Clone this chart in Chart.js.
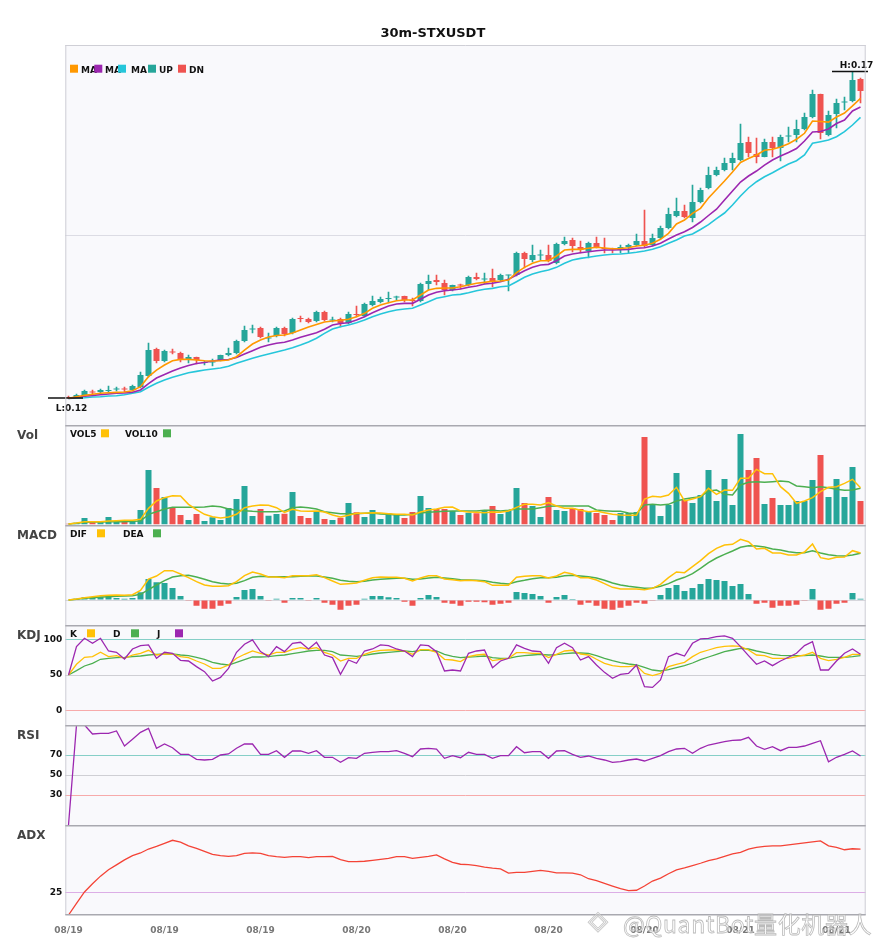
<!DOCTYPE html>
<html><head><meta charset="utf-8">
<script src="https://cdn.jsdelivr.net/npm/chart.js@4.4.1/dist/chart.umd.min.js"></script>
<style>
html,body{margin:0;padding:0;background:#fff;width:885px;height:950px;overflow:hidden;}
#wrap{position:relative;width:885px;height:950px;}
.pane{position:absolute;left:0;width:885px;}
canvas{display:block;}
#wm{position:absolute;left:623px;top:906px;font:23px "Noto Sans CJK SC","Noto Sans",sans-serif;color:rgba(255,255,255,0.55);-webkit-text-stroke:0.8px rgba(175,175,175,0.85);white-space:nowrap;letter-spacing:0.6px;}
#wmLogo{position:absolute;left:588px;top:905px;font:26px "DejaVu Sans",sans-serif;color:rgba(255,255,255,0.5);-webkit-text-stroke:0.8px rgba(180,180,180,0.8);}
</style></head>
<body><div id="wrap">
<div class="pane" style="top:0"><canvas id="cMain" width="885" height="425"></canvas></div>
<div class="pane" style="top:425px"><canvas id="cVol" width="885" height="100"></canvas></div>
<div class="pane" style="top:525px"><canvas id="cMacd" width="885" height="100"></canvas></div>
<div class="pane" style="top:625px"><canvas id="cKdj" width="885" height="100"></canvas></div>
<div class="pane" style="top:725px"><canvas id="cRsi" width="885" height="100"></canvas></div>
<div class="pane" style="top:825px"><canvas id="cAdx" width="885" height="125"></canvas></div>
<div id="wmLogo">◈</div>
<div id="wm">@QuantBot量化机器人</div>
</div>
<script>
// ---------------- DATA ----------------
const title = '30m-STXUSDT';
const tickLabels = ['08/19','08/19','08/19','08/20','08/20','08/20','08/20','08/21','08/21'];
const tickStep = 12;

const opens = [0.12015,0.12015,0.12031,0.12099,0.12092,0.12107,0.12130,0.12138,0.12123,0.12169,
0.12337,0.12751,0.12567,0.12713,0.12690,0.12598,0.12629,0.12537,0.12544,0.12583,
0.12659,0.12690,0.12874,0.13050,0.13073,0.12912,0.12951,0.13073,0.12997,0.13219,
0.13212,0.13181,0.13319,0.13188,0.13212,0.13150,0.13288,0.13258,0.13426,0.13472,
0.13518,0.13541,0.13564,0.13495,0.13488,0.13748,0.13810,0.13764,0.13656,0.13733,
0.13733,0.13856,0.13817,0.13840,0.13810,0.13878,0.13886,0.14224,0.14116,0.14185,
0.14193,0.14070,0.14362,0.14423,0.14316,0.14254,0.14377,0.14300,0.14285,0.14270,
0.14316,0.14346,0.14408,0.14346,0.14454,0.14607,0.14791,0.14868,0.14761,0.15006,
0.15221,0.15420,0.15497,0.15604,0.15650,0.15926,0.15742,0.15696,0.15926,0.15834,
0.16010,0.16034,0.16126,0.16310,0.16662,0.16034,0.16356,0.16532,0.16555,0.16892];
const highs = [0.12031,0.12061,0.12123,0.12123,0.12138,0.12184,0.12169,0.12169,0.12199,0.12399,
0.12843,0.12767,0.12736,0.12751,0.12705,0.12659,0.12629,0.12567,0.12598,0.12659,
0.12767,0.12889,0.13104,0.13120,0.13089,0.12997,0.13089,0.13089,0.13227,0.13258,
0.13227,0.13334,0.13334,0.13242,0.13227,0.13319,0.13411,0.13457,0.13564,0.13549,
0.13626,0.13564,0.13564,0.13534,0.13764,0.13886,0.13886,0.13810,0.13733,0.13748,
0.13871,0.13917,0.13917,0.13978,0.13902,0.13886,0.14239,0.14239,0.14346,0.14270,
0.14346,0.14377,0.14469,0.14454,0.14408,0.14392,0.14469,0.14454,0.14300,0.14346,
0.14362,0.14515,0.14883,0.14515,0.14638,0.14914,0.15067,0.14960,0.15267,0.15221,
0.15543,0.15543,0.15681,0.15757,0.16202,0.16003,0.15988,0.15972,0.16003,0.16034,
0.16156,0.16264,0.16371,0.16724,0.16662,0.16402,0.16586,0.16616,0.17000,0.16908];
const lows = [0.12000,0.12000,0.12015,0.12061,0.12077,0.12077,0.12107,0.12092,0.12107,0.12153,
0.12322,0.12537,0.12552,0.12675,0.12552,0.12537,0.12521,0.12506,0.12491,0.12567,
0.12644,0.12675,0.12859,0.12997,0.12920,0.12859,0.12935,0.12951,0.12981,0.13166,
0.13150,0.13166,0.13181,0.13166,0.13089,0.13135,0.13242,0.13242,0.13411,0.13457,
0.13457,0.13503,0.13472,0.13411,0.13472,0.13656,0.13733,0.13580,0.13641,0.13672,
0.13718,0.13810,0.13748,0.13702,0.13794,0.13641,0.13871,0.13994,0.14086,0.14116,
0.14086,0.14055,0.14346,0.14239,0.14224,0.14147,0.14300,0.14224,0.14224,0.14224,
0.14224,0.14331,0.14316,0.14331,0.14438,0.14592,0.14776,0.14761,0.14699,0.14991,
0.15205,0.15405,0.15481,0.15497,0.15635,0.15696,0.15604,0.15696,0.15696,0.15635,
0.15926,0.15926,0.16110,0.16294,0.15972,0.16018,0.16141,0.16417,0.16540,0.16524];
const closes = [0.12000,0.12046,0.12107,0.12084,0.12123,0.12123,0.12138,0.12130,0.12184,0.12353,
0.12736,0.12567,0.12721,0.12698,0.12598,0.12629,0.12583,0.12544,0.12552,0.12659,
0.12690,0.12874,0.13043,0.13058,0.12935,0.12920,0.13073,0.12981,0.13212,0.13212,
0.13166,0.13319,0.13196,0.13196,0.13150,0.13288,0.13273,0.13442,0.13488,0.13518,
0.13534,0.13549,0.13503,0.13488,0.13748,0.13794,0.13779,0.13656,0.13733,0.13725,
0.13856,0.13825,0.13825,0.13779,0.13886,0.13886,0.14224,0.14132,0.14193,0.14193,
0.14101,0.14362,0.14408,0.14331,0.14270,0.14377,0.14316,0.14285,0.14277,0.14316,
0.14346,0.14408,0.14331,0.14454,0.14607,0.14822,0.14868,0.14776,0.15006,0.15190,
0.15420,0.15497,0.15604,0.15681,0.15911,0.15757,0.15696,0.15926,0.15834,0.16003,
0.16018,0.16126,0.16310,0.16662,0.16064,0.16340,0.16524,0.16540,0.16877,0.16708];

const ma5 = [0.11995,0.12020,0.12041,0.12057,0.12072,0.12081,0.12087,0.12092,0.12112,0.12173,
0.12327,0.12429,0.12506,0.12572,0.12593,0.12593,0.12583,0.12572,0.12567,0.12572,
0.12583,0.12633,0.12736,0.12828,0.12889,0.12935,0.12958,0.12966,0.12997,0.13043,
0.13089,0.13127,0.13166,0.13181,0.13192,0.13207,0.13247,0.13299,0.13376,0.13426,
0.13462,0.13492,0.13503,0.13503,0.13580,0.13656,0.13682,0.13687,0.13687,0.13707,
0.13733,0.13759,0.13774,0.13790,0.13794,0.13810,0.13922,0.14004,0.14066,0.14106,
0.14106,0.14178,0.14270,0.14280,0.14280,0.14296,0.14311,0.14300,0.14290,0.14293,
0.14305,0.14331,0.14342,0.14373,0.14434,0.14526,0.14669,0.14730,0.14833,0.14909,
0.15067,0.15198,0.15328,0.15466,0.15612,0.15673,0.15727,0.15799,0.15814,0.15850,
0.15900,0.15969,0.16060,0.16248,0.16240,0.16232,0.16310,0.16371,0.16481,0.16596];
const ma10 = [0.11995,0.12011,0.12026,0.12041,0.12051,0.12061,0.12072,0.12077,0.12087,0.12123,
0.12222,0.12307,0.12360,0.12414,0.12460,0.12498,0.12529,0.12544,0.12567,0.12583,
0.12590,0.12621,0.12675,0.12725,0.12778,0.12813,0.12839,0.12854,0.12889,0.12931,
0.12966,0.13001,0.13054,0.13120,0.13143,0.13155,0.13196,0.13247,0.13308,0.13360,
0.13411,0.13442,0.13452,0.13452,0.13514,0.13580,0.13621,0.13646,0.13656,0.13672,
0.13698,0.13718,0.13748,0.13759,0.13784,0.13820,0.13886,0.13952,0.14004,0.14040,
0.14050,0.14106,0.14178,0.14208,0.14228,0.14244,0.14259,0.14270,0.14270,0.14274,
0.14280,0.14296,0.14305,0.14331,0.14373,0.14439,0.14500,0.14549,0.14615,0.14699,
0.14799,0.14896,0.15037,0.15175,0.15313,0.15405,0.15481,0.15573,0.15650,0.15711,
0.15765,0.15827,0.15942,0.16080,0.16087,0.16126,0.16210,0.16264,0.16402,0.16463];
const ma20 = [0.11995,0.12000,0.12005,0.12015,0.12020,0.12031,0.12035,0.12051,0.12072,0.12097,
0.12164,0.12225,0.12276,0.12317,0.12353,0.12388,0.12409,0.12429,0.12445,0.12460,
0.12486,0.12532,0.12572,0.12609,0.12644,0.12675,0.12705,0.12736,0.12771,0.12813,
0.12859,0.12916,0.12992,0.13058,0.13093,0.13120,0.13155,0.13196,0.13247,0.13288,
0.13324,0.13350,0.13365,0.13376,0.13426,0.13477,0.13529,0.13554,0.13580,0.13590,
0.13615,0.13646,0.13667,0.13682,0.13707,0.13718,0.13784,0.13851,0.13902,0.13937,
0.13963,0.14004,0.14066,0.14116,0.14142,0.14158,0.14178,0.14193,0.14204,0.14208,
0.14219,0.14235,0.14254,0.14280,0.14320,0.14373,0.14423,0.14484,0.14515,0.14584,
0.14658,0.14750,0.14837,0.14960,0.15098,0.15221,0.15317,0.15394,0.15455,0.15523,
0.15589,0.15639,0.15727,0.15906,0.15931,0.15957,0.16007,0.16084,0.16187,0.16305];

const volume = [2,5,19,7,9,22,10,9,10,43, 163,109,82,51,28,13,31,10,21,13,
49,76,115,25,46,26,31,32,97,25, 19,38,16,13,20,64,36,22,43,16,
33,28,19,37,85,49,46,46,40,28, 35,33,43,55,31,40,109,64,55,22,
82,43,40,49,46,37,34,28,13,34, 34,37,262,61,25,58,154,73,64,88,
163,70,136,58,271,163,199,61,79,58, 58,70,70,133,208,82,136,82,172,70];
const vol5 = [1,4,8,8,8,10,11,12,12,15, 48,70,80,86,85,60,44,30,23,19,
22,30,50,55,58,57,50,36,45,40, 39,40,37,28,22,27,33,33,35,34,
32,30,30,28,37,43,46,51,52,40, 37,36,35,37,36,40,51,60,60,58,
65,55,48,48,42,38,40,35,30,28, 27,27,76,84,82,88,111,70,76,83,
108,90,103,102,138,138,165,152,152,113, 93,63,70,80,98,111,113,123,135,110];
const vol10 = [1,3,6,7,7,8,8,8,9,10, 30,38,46,51,51,51,51,52,55,53,
46,42,41,39,38,38,38,40,50,52, 50,46,38,35,32,32,32,33,34,31,
30,28,28,30,34,36,38,39,40,40, 40,40,42,42,40,42,46,46,46,50,
54,55,55,55,55,55,43,41,39,39, 34,32,58,60,58,60,70,76,80,83,
100,103,90,88,118,126,128,126,128,130, 128,115,113,110,113,110,105,102,103,108];

const dif = [0,3,7,10,13,14,15,14,16,29, 63,72,88,88,78,67,55,45,41,41,
43,55,73,84,78,69,69,67,73,73, 73,76,67,57,47,49,51,59,67,69,
68,68,65,57,66,73,73,63,61,58, 59,58,55,44,44,44,68,71,73,73,
66,72,83,78,67,67,60,49,38,33, 33,33,31,35,47,67,84,82,100,118,
139,155,165,167,182,175,153,155,141,141, 135,135,144,168,127,122,128,129,148,141];
const dea = [0,2,5,7,9,10,11,12,13,17, 31,45,58,69,73,74,69,62,55,50,
48,50,58,68,71,70,70,70,70,71, 72,72,69,65,59,56,55,56,60,62,
64,65,65,62,63,66,68,66,64,61, 60,59,58,53,50,48,55,59,64,67,
67,68,73,74,72,70,66,59,51,45, 41,38,35,36,41,49,60,68,79,95,
112,126,137,147,158,163,162,159,153,150, 145,142,142,148,141,136,133,132,135,140];
const macdHist = [0,4,8,9,9,12,6,4,6,23, 63,53,51,36,12,-2,-17,-26,-26,-17,
-11,9,30,33,12,-2,4,-8,6,6, -2,6,-8,-14,-29,-17,-14,4,12,12,
8,6,-5,-17,6,15,9,-8,-11,-17, -5,-5,-7,-14,-11,-8,24,21,18,12,
-8,9,15,3,-14,-8,-17,-26,-29,-23, -17,-8,-11,-2,15,36,45,27,36,48,
63,60,57,42,48,18,-11,-8,-23,-17, -17,-14,-1,33,-29,-26,-11,-8,21,4];

const kLine = [50,65,74.8,75.7,81.8,75.7,77.1,73.4,78,80.4, 84.6,78,79.4,79.4,75.7,74.3,69.6,65.4,59.3,59.3,
64,73.4,79,83.6,80.4,78,81.8,81.8,86,88.3, 86.4,88.3,81.8,78,69.6,73.4,73.4,79,82.7,84.6,
85,85,83.6,79,85.5,85.5,81.8,72,71,68.7, 75.7,78,79,70.1,72,73.4,81.3,81.3,80.4,80.4,
74.3,79,83.6,84.6,79.4,78,72,66.4,63.1,61.7, 61.7,63.1,52.3,49.1,52.3,61.7,65,67.8,75.7,81.8,
85,88.3,90.2,90.7,90.2,85,78,77.1,73.4,73.4, 73.4,75.7,78,81.8,73.4,70.1,72,74.8,79,79];
const dLine = [50,56.1,62.6,66.4,72,73.4,74.3,74.8,75.7,76.6, 78,79,79.4,79.4,78,77.1,74.8,72,67.8,65.4,
64,67.8,71.5,75.2,75.2,75.7,77.1,78,79.9,81.8, 83.6,84.6,84.6,82.7,78,77.1,76.2,77.6,79.4,80.8,
81.8,82.7,83.6,82.7,84.6,84.6,83.6,79,76.2,74.3, 75.2,75.7,76.6,74.3,73.4,73.4,75.7,77.1,78,79,
78,78.5,79.9,80.8,80.8,80.4,77.1,73.4,70.1,67.3, 65.4,64,60.7,57,55.6,57.5,60.3,63.1,66.8,71.5,
75.2,79,82.7,85,87.4,86.4,83.6,81.3,79,77.6, 77.1,77.1,77.1,78,76.6,74.8,74.8,74.8,75.7,77.1];
const jLine = [50,89.7,101.4,94.4,101.4,83.6,81.8,72.4,86.4,91.1, 92.1,73.4,81.8,80.4,70.6,69.6,61.7,54.7,41.6,46.7,
59.3,81.8,93,99.1,82.7,75.7,89.7,82.7,94.4,95.8, 86.4,95.8,78,74.3,50.9,71,66.4,83.6,86.4,92.1,
91.1,86.4,83.6,75.7,92.1,91.1,82.7,55.6,57,55.6, 80.4,83.6,85,60.3,69.6,73.4,92.1,87.4,83.6,82.7,
66.4,88.3,94.4,88.3,71,75.7,64,53.7,45.3,50.9, 52.3,64,33.7,32.7,43,75.7,80.4,76.6,94.4,100.5,
101.4,103.7,104.7,101.4,89.7,77.1,65,69.6,63.1,69.6, 74.8,80.4,91.1,96.7,57,57,69.6,80.4,86.4,79];

const rsi = [0,100,100,91,91.7,91.7,94,79,85.7,92.7, 96.7,76.7,81,77.3,70.7,70.7,65.7,65,65.7,70,
71,76.7,81,81,70.7,70.7,74.3,67.7,74,74, 71.7,74.3,67.7,67.7,62.7,67.3,66.7,71.7,72.7,73.3,
73.3,74.3,71.7,68.3,76,76.7,76,66.7,69.3,67.3, 72.7,70.7,70.7,66.7,69.3,69.3,78.3,72.3,73.3,73.3,
66.7,74,74.3,70.7,67.7,69,66.7,65,62.7,63.3, 65,66,64,66.7,69.3,73.3,76,76.7,71.7,76.7,
80,81.7,83.3,84.7,85,87.7,79,75.7,78.3,74.3, 77.7,77.7,79,81.7,84.3,63.3,67.7,70.7,74,69];

const adx = [0,12.8,25.6,34.8,43.2,50.2,55.7,61.2,65.9,68.9, 73.3,76.2,79.5,83,81,76.9,74,70.7,67.4,65.9,
65.2,65.9,68.5,69,68.5,65.9,64.8,64.1,64.8,64.8, 63.7,64.8,64.8,65.2,61.5,59.3,59.3,59.7,60.8,61.9,
63,64.8,64.8,63,64.1,65.2,66.7,62.3,58.6,56.4, 56,54.9,53.1,52,51.3,46.5,47.3,47.3,48.4,49.5,
48.4,46.9,46.9,46.5,44.7,40.3,38.1,35.2,32.2,29.3, 27.1,27.5,32.2,37.7,41,45.8,50.2,52.4,54.9,57.5,
60.4,62.3,65.2,67.8,69.6,73.3,75.1,76.2,76.9,76.9, 78,79.1,80.2,81.3,82.4,76.9,75.1,72.5,73.6,73.3];

// ---------------- STYLE ----------------
const FONT = '"DejaVu Sans", "Liberation Sans", sans-serif';
const UP = '#26a69a', DN = '#ef5350';
const C_MA5 = '#ff9800', C_MA10 = '#9c27b0', C_MA20 = '#26c6da';
const C_Y = '#ffc107', C_G = '#4caf50', C_P = '#9c27b0', C_ADX = '#f44336';
const BG = '#f9f9fc';
const LEFT = 65.3, RPAD = 885 - 865.7;

const pts = arr => arr.map((v, i) => ({x: i, y: v}));
const upAt = i => closes[i] >= opens[i];
const zeroPad = sc => { sc.paddingTop = 0; sc.paddingBottom = 0; sc.paddingLeft = 0; sc.paddingRight = 0; };

function xScale(show) {
  return {
    type: 'linear', min: -0.4, max: 99.65, display: show, offset: false, bounds: 'ticks',
    grid: {display: false, offset: false}, border: {display: false},
    afterBuildTicks: s => { s.ticks = tickLabels.map((_, k) => ({value: k * tickStep})); },
    afterFit: sc => { zeroPad(sc); if (show) sc.height = 35; },
    ticks: {autoSkip: false, maxRotation: 0, padding: 2, color: '#777',
      font: {family: FONT, size: 9, weight: 'bold'},
      callback: (v, idx) => tickLabels[idx] ?? ''}
  };
}
function yScale(min, max, ticks, colors, showLabels) {
  return {
    min, max, position: 'left', display: true,
    afterBuildTicks: s => { s.ticks = ticks.map(v => ({value: v})); },
    afterFit: s => { s.width = LEFT; zeroPad(s); },
    grid: {drawTicks: false, lineWidth: 1,
      color: c => { const k = ticks.indexOf(c.tick ? c.tick.value : NaN); return k >= 0 ? colors[k] : 'rgba(0,0,0,0)'; }},
    border: {display: false},
    ticks: {display: showLabels, padding: 3, color: '#111', font: {family: FONT, size: 9, weight: 'bold'}}
  };
}
function line(data, color, w, order) {
  return {type: 'line', data: pts(data), borderColor: color, borderWidth: w, pointRadius: 0, tension: 0, order: order ?? 0};
}
function deco(cfg) {
  return {
    id: 'deco',
    beforeDraw(chart) {
      const {ctx, chartArea: a} = chart;
      ctx.save(); ctx.fillStyle = BG; ctx.fillRect(a.left, a.top, a.right - a.left, a.bottom - a.top); ctx.restore();
    },
    afterDraw(chart) {
      const {ctx, chartArea: a} = chart;
      ctx.save();
      ctx.strokeStyle = '#cdcdd4'; ctx.lineWidth = 1;
      ctx.beginPath(); ctx.moveTo(a.left + 0.5, a.top); ctx.lineTo(a.left + 0.5, a.bottom);
      ctx.moveTo(a.right - 0.5, a.top); ctx.lineTo(a.right - 0.5, a.bottom); ctx.stroke();
      ctx.strokeStyle = cfg.main ? '#cfcfd6' : '#a9a9b0'; ctx.lineWidth = cfg.main ? 1 : 1.5;
      ctx.beginPath(); ctx.moveTo(a.left, a.top + (cfg.main ? 0.5 : 0.75)); ctx.lineTo(a.right, a.top + (cfg.main ? 0.5 : 0.75)); ctx.stroke();
      if (cfg.bottomLine) {
        ctx.beginPath(); ctx.moveTo(a.left, a.bottom - 0.25); ctx.lineTo(a.right, a.bottom - 0.25); ctx.stroke();
      }
      if (cfg.label) {
        ctx.fillStyle = '#444'; ctx.font = 'bold 12px ' + FONT; ctx.textAlign = 'left'; ctx.textBaseline = 'alphabetic';
        ctx.fillText(cfg.label, 17, a.top + 14);
      }
      if (cfg.legend) {
        ctx.font = 'bold 9px ' + FONT; ctx.textAlign = 'left'; ctx.textBaseline = 'alphabetic'; ctx.fillStyle = '#111';
        const by = cfg.legendY;
        cfg.legend.filter(it => it.t).forEach(it => ctx.fillText(it.t, it.x, by));
        cfg.legend.filter(it => it.c).forEach(it => { ctx.fillStyle = it.c; ctx.fillRect(it.x, by - 8, 8, 8); });
      }
      ctx.restore();
    }
  };
}
const hlPlugin = {
  id: 'hl',
  afterDatasetsDraw(chart) {
    const {ctx, scales: {x, y}} = chart;
    const hi = Math.max(...highs), lo = Math.min(...lows);
    const iH = highs.indexOf(hi), iL = lows.indexOf(lo);
    ctx.save();
    ctx.strokeStyle = '#111'; ctx.fillStyle = '#111'; ctx.lineWidth = 1.5;
    ctx.font = 'bold 9px ' + FONT; ctx.textAlign = 'center'; ctx.textBaseline = 'alphabetic';
    const xl = x.getPixelForValue(iL), yl = y.getPixelForValue(lo);
    ctx.beginPath(); ctx.moveTo(xl - 20.5, yl); ctx.lineTo(xl + 14.5, yl); ctx.stroke();
    ctx.fillText('L:' + lo.toFixed(2), xl + 3, yl + 12.7);
    const xh = x.getPixelForValue(iH), yh = y.getPixelForValue(hi) - 0.6;
    ctx.beginPath(); ctx.moveTo(xh - 20.5, yh); ctx.lineTo(xh + 15.5, yh); ctx.stroke();
    ctx.fillText('H:' + hi.toFixed(2), xh + 4, yh - 3.4);
    ctx.restore();
  }
};
const base = (scales, extra) => Object.assign({
  responsive: false, animation: false, events: [],
  layout: {padding: {left: 0, right: RPAD, top: 0, bottom: 0}},
  plugins: {legend: {display: false}, tooltip: {enabled: false}, title: {display: false}},
  scales
}, extra || {});

// ---------------- MAIN ----------------
new Chart(document.getElementById('cMain'), {
  type: 'bar',
  data: {datasets: [
    line(ma5, C_MA5, 1.6), line(ma10, C_MA10, 1.6), line(ma20, C_MA20, 1.6),
    {type: 'bar', data: opens.map((o, i) => ({x: i, y: [o, closes[i]]})),
      backgroundColor: opens.map((o, i) => upAt(i) ? UP : DN), grouped: false,
      barPercentage: 0.75, categoryPercentage: 1, minBarLength: 1, order: 1},
    {type: 'bar', data: lows.map((l, i) => ({x: i, y: [l, highs[i]]})),
      backgroundColor: opens.map((o, i) => upAt(i) ? UP : DN), grouped: false,
      barThickness: 1, order: 2}
  ]},
  options: (() => { const o = base({x: xScale(false), y: yScale(0.11586, 0.17414, [0.145], ['#dcdce4'], false)});
    o.plugins.title = {display: true, text: title, color: '#111', font: {family: FONT, size: 13, weight: 'bold'}, padding: {top: 26, bottom: 3.4}};
    return o; })(),
  plugins: [deco({main: true, legendY: 72.7, legend: [
    {c: C_MA5, x: 70}, {t: 'MA', x: 81}, {c: C_MA10, x: 94.3}, {t: 'MA', x: 105},
    {c: C_MA20, x: 118}, {t: 'MA', x: 131}, {c: UP, x: 148}, {t: 'UP', x: 159},
    {c: DN, x: 178}, {t: 'DN', x: 189}]}), hlPlugin]
});

// ---------------- VOL ----------------
new Chart(document.getElementById('cVol'), {
  type: 'bar',
  data: {datasets: [
    line(vol5, C_Y, 1.5), line(vol10, C_G, 1.5),
    {type: 'bar', data: pts(volume), backgroundColor: volume.map((v, i) => upAt(i) ? UP : DN),
      barPercentage: 0.75, categoryPercentage: 1, grouped: false, order: 1}
  ]},
  options: base({x: xScale(false), y: yScale(-2, 298, [], [], false)}),
  plugins: [deco({label: 'Vol', legendY: 12.3, legend: [
    {t: 'VOL5', x: 70}, {c: C_Y, x: 101}, {t: 'VOL10', x: 125}, {c: C_G, x: 163}]})]
});

// ---------------- MACD ----------------
new Chart(document.getElementById('cMacd'), {
  type: 'bar',
  data: {datasets: [
    line(dif, C_Y, 1.5), line(dea, C_G, 1.5),
    {type: 'bar', data: pts(macdHist), backgroundColor: macdHist.map(v => v >= 0 ? UP : DN),
      barPercentage: 0.75, categoryPercentage: 1, grouped: false, order: 1}
  ]},
  options: base({x: xScale(false), y: yScale(-75, 225, [0], ['#d6d6dc'], false)}),
  plugins: [deco({label: 'MACD', legendY: 12.3, legend: [
    {t: 'DIF', x: 70}, {c: C_Y, x: 97}, {t: 'DEA', x: 123}, {c: C_G, x: 153}]})]
});

// ---------------- KDJ ----------------
new Chart(document.getElementById('cKdj'), {
  type: 'line',
  data: {datasets: [line(jLine, C_P, 1.3), line(kLine, C_Y, 1.3), line(dLine, C_G, 1.3)]},
  options: base({x: xScale(false), y: yScale(-20, 120, [0, 50, 100], ['#f7aaaa', '#cfcfd4', '#86cfc7'], true)}),
  plugins: [deco({label: 'KDJ', legendY: 12.3, legend: [
    {t: 'K', x: 70}, {c: C_Y, x: 87}, {t: 'D', x: 113}, {c: C_G, x: 131}, {t: 'J', x: 157}, {c: C_P, x: 175}]})]
});

// ---------------- RSI ----------------
new Chart(document.getElementById('cRsi'), {
  type: 'line',
  data: {datasets: [line(rsi, C_P, 1.3)]},
  options: base({x: xScale(false), y: yScale(0, 100, [30, 50, 70], ['#f7aaaa', '#cfcfd4', '#86cfc7'], true)}),
  plugins: [deco({label: 'RSI'})]
});

// ---------------- ADX ----------------
new Chart(document.getElementById('cAdx'), {
  type: 'line',
  data: {datasets: [line(adx, C_ADX, 1.3)]},
  options: base({x: xScale(true), y: yScale(0, 100, [25], ['#dcaee6'], true)}),
  plugins: [deco({label: 'ADX', bottomLine: true})]
});
</script>
</body></html>
